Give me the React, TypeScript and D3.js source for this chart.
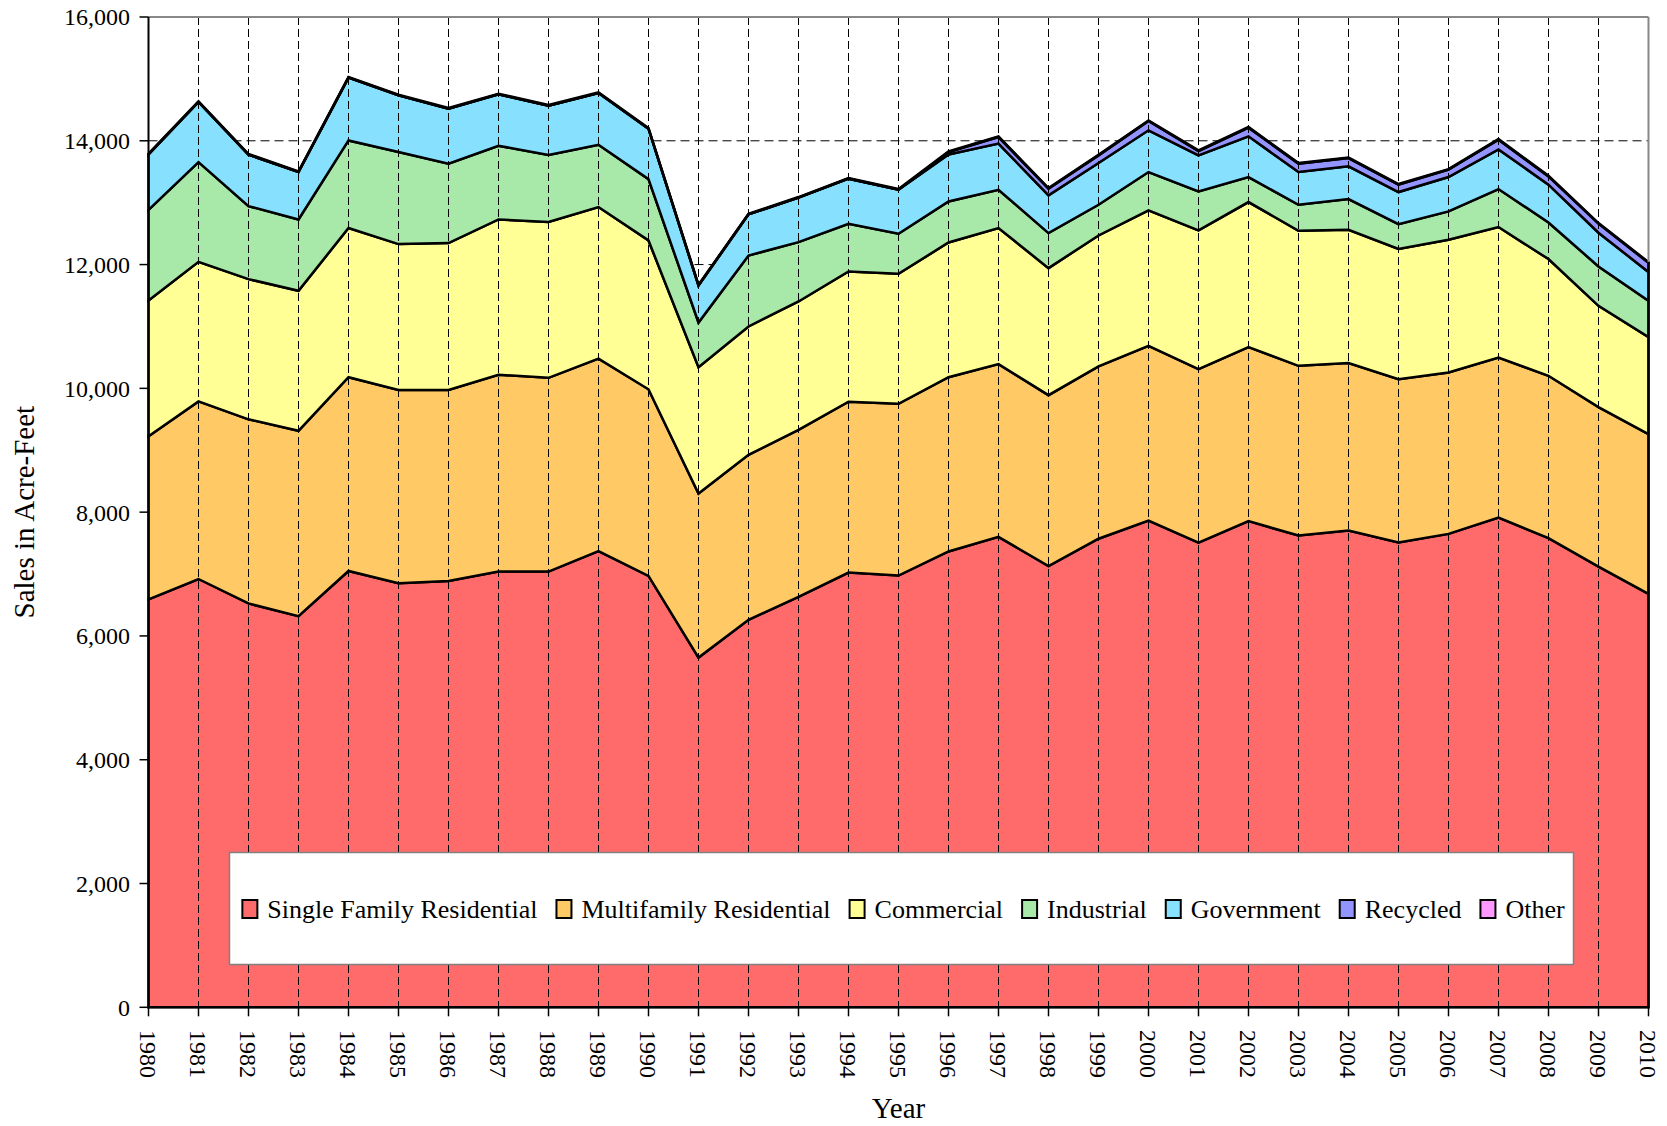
import React from 'react';
import * as d3 from 'd3';

const years = [1980, 1981, 1982, 1983, 1984, 1985, 1986, 1987, 1988, 1989, 1990, 1991, 1992, 1993, 1994, 1995, 1996, 1997, 1998, 1999, 2000, 2001, 2002, 2003, 2004, 2005, 2006, 2007, 2008, 2009, 2010];

const singleFamily = [6590, 6920, 6525, 6320, 7050, 6852, 6886, 7041, 7040, 7370, 6970, 5650, 6260, 6632, 7024, 6975, 7365, 7600, 7130, 7570, 7865, 7509, 7855, 7622, 7703, 7509, 7649, 7913, 7579, 7121, 6680];
const multifamily = [2635, 2870, 2975, 2994, 3130, 3123, 3089, 3179, 3130, 3110, 3015, 2650, 2666, 2698, 2761, 2775, 2815, 2792, 2760, 2785, 2822, 2802, 2812, 2742, 2705, 2640, 2607, 2586, 2624, 2576, 2580];
const commercial = [2195, 2255, 2265, 2263, 2410, 2356, 2372, 2509, 2517, 2449, 2405, 2043, 2074, 2074, 2104, 2101, 2177, 2198, 2053, 2115, 2188, 2241, 2343, 2182, 2154, 2102, 2145, 2107, 1886, 1637, 1568];
const industrial = [1465, 1611, 1180, 1152, 1416, 1487, 1282, 1191, 1083, 1007, 991, 721, 1147, 959, 770, 647, 663, 619, 566, 497, 620, 630, 404, 421, 496, 403, 458, 614, 591, 636, 587];
const government = [896, 971, 831, 766, 1014, 916, 890, 830, 798, 836, 815, 599, 664, 718, 729, 712, 760, 745, 609, 673, 674, 582, 658, 528, 529, 518, 555, 641, 611, 545, 464];
const recycled = [0, 0, 0, 0, 0, 0, 0, 0, 0, 0, 0, 0, 0, 0, 0, 0, 38, 107, 108, 124, 151, 70, 140, 136, 134, 119, 119, 157, 134, 146, 151];
const other = [10, 10, 10, 10, 10, 10, 10, 10, 10, 10, 10, 10, 10, 10, 10, 10, 10, 10, 10, 10, 10, 10, 10, 10, 10, 10, 10, 10, 10, 10, 10];

const seriesNames = ['Single Family Residential', 'Multifamily Residential', 'Commercial', 'Industrial', 'Government', 'Recycled', 'Other'];
const seriesValues = [singleFamily, multifamily, commercial, industrial, government, recycled, other];
const seriesColors = ['#FF6B6B', '#FFC966', '#FFFF96', '#A8E8A8', '#88E0FF', '#9494FF', '#FF99FF'];
const yTicks = [0, 2000, 4000, 6000, 8000, 10000, 12000, 14000, 16000];

const W = 1667;
const H = 1126;
const M = { left: 148.5, right: 1648.5, top: 17, bottom: 1007.3 };
const FONT = '"Liberation Serif", "Times New Roman", serif';

function measure(text: string, size: number): number {
  const c = document.createElement('canvas');
  const ctx = c.getContext('2d');
  if (!ctx) return text.length * size * 0.45;
  ctx.font = `${size}px "Liberation Serif"`;
  return ctx.measureText(text).width;
}

export default function App() {
  const rows = years.map((y, i) => {
    const r: any = { year: y };
    seriesNames.forEach((n, k) => { r[n] = seriesValues[k][i]; });
    return r;
  });
  const stack = d3.stack<any>().keys(seriesNames)(rows);

  const x = d3.scaleLinear().domain([years[0], years[years.length - 1]]).range([M.left, M.right]);
  const y = d3.scaleLinear().domain([0, 16000]).range([M.bottom, M.top]);

  const area = d3.area<any>()
    .x((d) => x(d.data.year))
    .y0((d) => y(d[0]))
    .y1((d) => y(d[1]));

  const fmt = d3.format(',');

  // legend layout
  const legSize = 26;
  const swW = 17, swH = 18, textGap = 8, itemGap = 19;
  const widths = seriesNames.map((n) => measure(n, legSize));
  const total = widths.reduce((a, w) => a + swW + textGap + w, 0) + itemGap * (seriesNames.length - 1);
  const box = { x: 229.5, y: 852.5, w: 1344, h: 112 };
  let cx = box.x + (box.w - total) / 2 + 2;
  const legendItems = seriesNames.map((n, i) => {
    const item = { name: n, color: seriesColors[i], sx: cx, tx: cx + swW + textGap };
    cx += swW + textGap + widths[i] + itemGap;
    return item;
  });
  const legY = 909;

  return (
    <div style={{ position: 'absolute', left: 0, top: 0 }}>
      <svg width={W} height={H} style={{ display: 'block', background: '#fff' }} fontFamily={FONT}>
        <rect x={0} y={0} width={W} height={H} fill="#fff" />
        {/* horizontal gridlines (behind areas) */}
        {yTicks.filter((t) => t > 0 && t < 16000).map((t) => (
          <line key={'h' + t} x1={M.left} x2={M.right} y1={y(t)} y2={y(t)} stroke="#000" strokeWidth={1} strokeDasharray="9,5" />
        ))}
        {/* areas */}
        {stack.map((s, i) => (
          <path key={s.key} d={area(s) || ''} fill={seriesColors[i]} stroke="#000" strokeWidth={2.5} strokeLinejoin="miter" />
        ))}
        {/* vertical drop lines */}
        {years.slice(1, -1).map((yr) => (
          <line key={'v' + yr} x1={x(yr)} x2={x(yr)} y1={M.top} y2={M.bottom} stroke="#000" strokeWidth={1} strokeDasharray="8,4" />
        ))}
        {/* plot border top/right */}
        <line x1={M.left} x2={M.right} y1={M.top} y2={M.top} stroke="#888" strokeWidth={2} />
        <line x1={M.right} x2={M.right} y1={M.top} y2={M.bottom} stroke="#888" strokeWidth={2} />
        {/* re-stroke right edge of areas */}
        <line x1={M.right} x2={M.right} y1={y(d3.sum(seriesValues, (v) => v[v.length - 1]))} y2={M.bottom} stroke="#000" strokeWidth={2.5} />
        {/* axes */}
        <line x1={M.left} x2={M.left} y1={M.top} y2={M.bottom + 1} stroke="#000" strokeWidth={2} />
        <line x1={M.left - 1} x2={M.right + 1} y1={M.bottom} y2={M.bottom} stroke="#000" strokeWidth={2} />
        {yTicks.map((t) => (
          <g key={'yt' + t}>
            <line x1={M.left - 9} x2={M.left} y1={y(t)} y2={y(t)} stroke="#000" strokeWidth={1.5} />
            <text x={130} y={y(t)} dy="0.35em" textAnchor="end" fontSize={24} fill="#000">{fmt(t)}</text>
          </g>
        ))}
        {years.map((yr) => (
          <g key={'xt' + yr}>
            <line x1={x(yr)} x2={x(yr)} y1={M.bottom} y2={M.bottom + 9} stroke="#000" strokeWidth={1.5} />
            <text x={x(yr)} y={1030} dy="0.35em" transform={`rotate(90, ${x(yr)}, 1030)`} textAnchor="start" fontSize={24} fill="#000" dx={0}>{yr}</text>
          </g>
        ))}
        <text x={(M.left + M.right) / 2} y={1118} textAnchor="middle" fontSize={29} fill="#000">Year</text>
        <text transform={`translate(34, ${(M.top + M.bottom) / 2}) rotate(-90)`} textAnchor="middle" fontSize={29} fill="#000">Sales in Acre-Feet</text>
        {/* legend */}
        <rect x={box.x} y={box.y} width={box.w} height={box.h} fill="#fff" stroke="#808080" strokeWidth={1.5} />
        {legendItems.map((it) => (
          <g key={'lg' + it.name}>
            <rect x={it.sx} y={legY - swH / 2} width={swW - 2} height={swH} fill={it.color} stroke="#000" strokeWidth={2} />
            <text x={it.tx} y={legY} dy="0.33em" fontSize={legSize} fill="#000">{it.name}</text>
          </g>
        ))}
      </svg>
    </div>
  );
}
